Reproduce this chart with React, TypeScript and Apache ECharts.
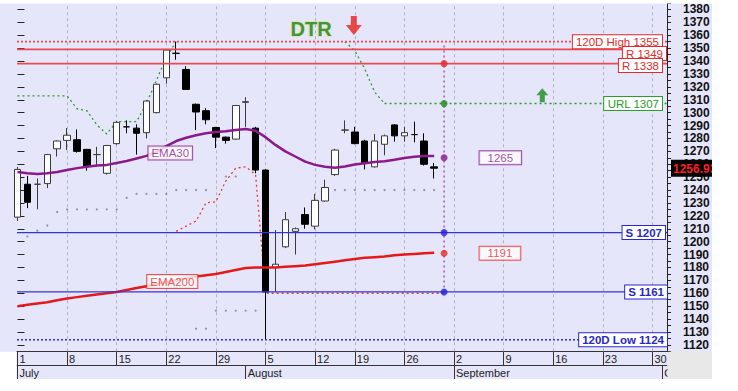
import React, { useEffect, useRef } from 'react';
import * as echarts from 'echarts';

// ---------- calendar (trading days, one slot per session) ----------
const julyDays = [1, 2, 3, 4, 5, 8, 9, 10, 11, 12, 15, 16, 17, 18, 19, 22, 23, 24, 25, 26, 29, 30, 31];
const augustDays = [1, 2, 5, 6, 7, 8, 9, 12, 13, 14, 16, 19, 20, 21, 22, 23, 26, 27, 28, 29, 30];
const septemberDays = [2, 3, 4, 5, 6, 9, 10, 11, 12, 13, 16, 17, 18, 19, 20, 23, 24, 25, 26, 27, 30];
const octoberDays = [1];
const dates: string[] = [
  ...julyDays.map((d) => `7/${d}`),
  ...augustDays.map((d) => `8/${d}`),
  ...septemberDays.map((d) => `9/${d}`),
  ...octoberDays.map((d) => `10/${d}`),
];
const weekTickDates = ['7/1', '7/8', '7/15', '7/22', '7/29', '8/5', '8/12', '8/19', '8/26', '9/2', '9/9', '9/16', '9/23', '9/30'];
const monthStartDates = ['7/1', '8/1', '9/2', '10/1'];
const monthNames = ['July', 'August', 'September', 'October'];

// ---------- price data (Jul 1 .. Aug 29) ----------
const opens = [1219, 1244.5, 1244.5, 1245, 1272, 1278.5, 1279, 1271.5, 1267.5, 1253, 1276, 1289, 1288, 1284.5, 1300, 1327, 1346, 1333.5, 1306.5, 1301.5, 1288.5, 1281, 1279.5, 1308, 1288, 1255.5, 1180, 1196, 1208, 1221, 1212, 1231.5, 1252, 1286.5, 1285, 1278, 1258, 1275.5, 1290.5, 1282, 1283, 1278, 1258];
const closes = [1256, 1230.5, 1244.5, 1267.5, 1278, 1282.5, 1270, 1258.5, 1267.5, 1274.5, 1292.5, 1289, 1284, 1309, 1322, 1348.5, 1346, 1318, 1300.5, 1294.5, 1281, 1278.5, 1305.5, 1308.5, 1255.5, 1161, 1182.5, 1217, 1210, 1213.5, 1232, 1242, 1271, 1286.5, 1276, 1261, 1278, 1282, 1282, 1284.5, 1283, 1260, 1256.93];
const lows = [1216, 1226, 1225, 1241.5, 1266, 1271, 1269, 1255, 1258, 1252, 1275, 1284, 1267.5, 1280, 1299.5, 1322.5, 1341, 1318, 1286.5, 1291, 1272.5, 1276, 1279, 1289, 1253, 1124, 1161, 1195, 1190, 1210, 1209.5, 1231, 1251, 1284, 1275.5, 1256, 1257.5, 1267, 1277.5, 1277.5, 1277, 1259, 1249];
const highs = [1258, 1251, 1249, 1268, 1278.5, 1288, 1287, 1272, 1273.5, 1275, 1293.5, 1294, 1291, 1309.5, 1322.5, 1349, 1355, 1336, 1307, 1303.5, 1289, 1281.5, 1306, 1312, 1289, 1256, 1209, 1223, 1211, 1226.5, 1237, 1248, 1272, 1294, 1289, 1279, 1283.5, 1283, 1291, 1289, 1293, 1284, 1261];

const ema30 = [1254, 1253, 1252.5, 1253, 1254, 1255.5, 1257, 1258, 1259, 1259.5, 1261, 1262.5, 1264.5, 1266.5, 1269.5, 1274, 1278, 1280.5, 1282.5, 1284, 1285, 1285.5, 1286.5, 1287.3, 1286, 1281, 1275, 1270, 1266, 1262, 1259.5, 1258, 1257.2, 1258.2, 1259.8, 1260.8, 1261.7, 1262.3, 1263.5, 1264.8, 1265.8, 1266.4, 1266.4];
const ema200 = [1150, 1151, 1152, 1153, 1154.5, 1156, 1157, 1158, 1159, 1160, 1161, 1162.5, 1164, 1165.5, 1167, 1168.5, 1170, 1171.5, 1173, 1174, 1175, 1176.5, 1178, 1179.5, 1180, 1180, 1180, 1180.5, 1181, 1181.5, 1182.5, 1183.5, 1184.5, 1185.5, 1186.5, 1187.5, 1188, 1188.5, 1189.5, 1190, 1190.5, 1191, 1191.3];

// upper reversal level (green dotted), index 0..37
const urlLine: (number | null)[] = [1313, 1313, 1313, 1313, 1313, 1313, 1303, 1301.5, 1290.5, 1283.5, 1293, 1293, 1293, 1307, 1325, 1343, 1355, null, null, null, null, null, null, null, null, null, null, null, null, null, null, null, null, 1355, 1348, 1334, 1316, 1307];
const urlLevel = 1307;
// lower reversal level (red dotted), index 16..43
const lrlStart = 16;
const lrlLine = [1208, 1212, 1216, 1230, 1231, 1247, 1257, 1258, 1252, 1160, 1160, 1160, 1160, 1160, 1160, 1160, 1160, 1160, 1160, 1160, 1160, 1160, 1160, 1160, 1160, 1160, 1160, 1160];
// grey stop dots
const stopDotsHigh: (number | null)[] = [null, 1204, 1208.5, 1212.5, 1223, 1225, 1225, 1225, 1225, 1225, 1225, 1234, 1237, 1237, 1237, 1237, 1240, 1240, 1240, 1240, null, 1250.5, 1250.5, null, null, null, null, null, null, null, null, 1240, 1240, 1240, 1240, 1240, 1240, 1240, 1240, 1240, 1240, 1240, 1240];
const stopDotsLow: (number | null)[] = [null, null, null, null, null, null, null, null, null, null, null, null, null, null, null, null, null, null, 1132.5, 1132.5, 1146.5, 1146.5, 1146.5, 1146.5, 1146.5];

// horizontal levels
const levelValues = [1355, 1349, 1338, 1207, 1161, 1124];
const levelNames = ['120D High', 'R', 'R', 'S', 'S', '120D Low'];

// projection for next session
const projectionDate = '8/30';
const projectionValues = [1338, 1307, 1265, 1207, 1191, 1161];
const projectionTop = 1352;
const projectionBottom = 1158;

const yMajorTicks = [1120, 1130, 1140, 1150, 1160, 1170, 1180, 1190, 1200, 1210, 1220, 1230, 1240, 1250, 1260, 1270, 1280, 1290, 1300, 1310, 1320, 1330, 1340, 1350, 1360, 1370, 1380];

// ---------- styling ----------
const FONT = '"Liberation Sans", Arial, sans-serif';
const RED = '#e42a2a';
const RED_LINE = '#ec4850';
const BLUE = '#2828c8';
const BLUE_LINE = '#3434d6';
const GREEN = '#2a9a2a';
const PURPLE = '#8a1a8c';
const X_MIN = -0.05;
const X_MAX = 65.47;
const Y_MIN = 1115;
const Y_MAX = 1385;

const idx = (d: string) => dates.indexOf(d);
const weekIdx = weekTickDates.map(idx);
const monthIdx = monthStartDates.map(idx);

const levelPos = ['insideEnd', 'insideEndBottom', 'insideEndBottom', 'insideEnd', 'insideEnd', 'insideEnd'];
const levelDist = [[5, 0], [1, -2.4], [5, -4.6], [2, 0], [0, 0], [0, 0]];

const boxLabel = (color: string, bold: boolean, size = 11.5) => ({
  color,
  fontFamily: FONT,
  fontSize: size,
  fontWeight: bold ? 'bold' : 'normal',
  backgroundColor: '#ffffff',
  borderColor: color,
  borderWidth: 1,
  padding: [1, 3, 0, 3],
  lineHeight: 12,
});

function levelSeries(i: number) {
  const v = levelValues[i];
  const isRes = v > 1300;
  const dotted = levelNames[i].startsWith('120D');
  const color = isRes ? RED_LINE : BLUE_LINE;
  return {
    name: `level${i}`,
    type: 'line',
    data: [[X_MIN, v], [X_MAX, v]],
    showSymbol: false,
    silent: true,
    z: 5,
    color,
    lineStyle: {
      color,
      width: isRes ? 1.8 : dotted ? 1.6 : 1.3,
      type: dotted ? [2, 2] : 'solid',
    },
    markLine: {
      silent: true,
      z: 6,
      symbol: ['none', 'none'],
      lineStyle: { color: 'rgba(0,0,0,0)', width: 1 },
      label: {
        show: true,
        position: levelPos[i],
        distance: levelDist[i],
        formatter: `${levelNames[i]} ${v}`,
        ...boxLabel(isRes ? RED : BLUE, !isRes),
      },
      data: [{ yAxis: v }],
    },
  };
}

function buildOption(): any {
  const candleData = opens.map((o, i) => [i, o, closes[i], lows[i], highs[i]]);
  const projX = idx(projectionDate);
  const projColors = [RED, '#1f8a1f', PURPLE, '#2020e0', RED, '#2020e0'];

  return {
    animation: false,
    backgroundColor: '#e6e6fa',
    textStyle: { fontFamily: FONT },
    grid: { left: 17, right: 45, top: 3, bottom: 27.7, containLabel: false, outerBoundsMode: 'none' },
    xAxis: [
      {
        type: 'value',
        position: 'bottom',
        min: X_MIN,
        max: X_MAX,
        axisLine: { show: true, onZero: false, lineStyle: { color: '#333', width: 1 } },
        axisTick: { show: true, customValues: weekIdx, length: 14, lineStyle: { color: '#333', width: 1 } },
        axisLabel: {
          customValues: weekIdx,
          formatter: (v: number) => {
            const d = dates[Math.round(v)];
            return d ? d.split('/')[1] : '';
          },
          align: 'left',
          padding: [0, 0, 0, 2],
          margin: 2,
          fontSize: 11,
          color: '#222',
          fontFamily: FONT,
        },
        splitLine: { show: false },
      },
      {
        type: 'value',
        position: 'bottom',
        offset: 14,
        min: X_MIN,
        max: X_MAX,
        axisLine: { show: true, onZero: false, lineStyle: { color: '#333', width: 1 } },
        axisTick: { show: true, customValues: monthIdx, length: 14, lineStyle: { color: '#333', width: 1 } },
        axisLabel: {
          customValues: monthIdx,
          formatter: (v: number) => {
            const k = monthIdx.indexOf(Math.round(v));
            return k >= 0 ? monthNames[k] : '';
          },
          align: 'left',
          padding: [0, 0, 0, 2],
          margin: 2,
          fontSize: 11,
          color: '#222',
          fontFamily: FONT,
        },
        splitLine: { show: false },
      },
    ],
    yAxis: [
      {
        type: 'value',
        position: 'right',
        min: Y_MIN,
        max: Y_MAX,
        interval: 5,
        scale: true,
        axisLine: { show: true, onZero: false, lineStyle: { color: '#222', width: 1 } },
        axisTick: { show: true, length: 4, lineStyle: { color: '#222' } },
        axisLabel: {
          formatter: (v: number) => (v % 10 === 0 && v > Y_MIN && v < Y_MAX ? String(v) : ''),
          margin: 16,
          fontWeight: 'bold',
          fontSize: 12,
          fontFamily: FONT,
          color: '#111',
          padding: [4, 0, 0, 0],
        },
        splitLine: { show: false },
      },
      {
        type: 'value',
        position: 'right',
        min: Y_MIN,
        max: Y_MAX,
        scale: true,
        axisLine: { show: false },
        axisTick: { show: true, customValues: yMajorTicks, length: 7, lineStyle: { color: '#222' } },
        axisLabel: { show: false },
        splitLine: { show: false },
      },
    ],
    series: [
      {
        name: 'price',
        type: 'candlestick',
        data: candleData,
        encode: { x: 0, y: [1, 2, 3, 4] },
        barWidth: 7,
        z: 3,
        itemStyle: {
          color: '#ffffff',
          color0: '#000000',
          borderColor: '#3a3a3a',
          borderColor0: '#000000',
          borderWidth: 1,
        },
      },
      {
        name: 'EMA30',
        type: 'line',
        data: ema30.map((v, i) => [i, v]),
        showSymbol: false,
        z: 4,
        lineStyle: { color: PURPLE, width: 2.5 },
        itemStyle: { color: PURPLE },
        markLine: {
          silent: true,
          z: 1,
          symbol: ['none', 'none'],
          label: { show: false },
          lineStyle: { color: '#b0b0c2', type: [3, 3], width: 1 },
          data: weekIdx.slice(1).map((x) => ({ xAxis: x })),
        },
      },
      {
        name: 'EMA200',
        type: 'line',
        data: ema200.map((v, i) => [i, v]),
        showSymbol: false,
        z: 4,
        lineStyle: { color: '#e41a1a', width: 2.5 },
        itemStyle: { color: '#e41a1a' },
      },
      ...levelValues.map((_, i) => levelSeries(i)),
      {
        name: 'URL',
        type: 'line',
        data: urlLine.map((v, i) => [i, v]),
        showSymbol: false,
        connectNulls: false,
        z: 2,
        lineStyle: { color: GREEN, width: 1.3, type: [2, 3] },
        markLine: {
          silent: true,
          symbol: ['none', 'none'],
          lineStyle: { color: GREEN, width: 1.3, type: [2, 3] },
          label: {
            show: true,
            position: 'insideEnd',
            distance: [5, 0],
            formatter: `URL ${urlLevel}`,
            ...boxLabel('#28a028', false),
          },
          data: [[{ coord: [urlLine.length - 1, urlLevel] }, { coord: [X_MAX, urlLevel] }]],
        },
      },
      {
        name: 'LRL',
        type: 'line',
        data: lrlLine.map((v, i) => [lrlStart + i, v]),
        showSymbol: false,
        z: 2,
        lineStyle: { color: '#e23a3a', width: 1.3, type: [2, 3] },
      },
      {
        name: 'stopHigh',
        type: 'scatter',
        data: stopDotsHigh.map((v, i) => [i, v]).filter((p) => p[1] != null),
        symbolSize: 2.2,
        z: 2,
        itemStyle: { color: '#7c7c8c' },
      },
      {
        name: 'stopLow',
        type: 'scatter',
        data: stopDotsLow.map((v, i) => [i, v]).filter((p) => p[1] != null),
        symbolSize: 2.2,
        z: 2,
        itemStyle: { color: '#7c7c8c' },
      },
      {
        name: 'projLine',
        type: 'line',
        data: [[projX, projectionTop], [projX, projectionBottom]],
        showSymbol: false,
        z: 6,
        lineStyle: { color: '#a040a8', width: 1.3, type: [2, 3] },
      },
      {
        name: 'projDots',
        type: 'scatter',
        z: 7,
        symbolSize: 7,
        data: projectionValues.map((v, i) => {
          const item: any = { value: [projX, v], itemStyle: { color: projColors[i] } };
          if (v === 1265 || v === 1191) {
            item.label = {
              show: true,
              position: 'right',
              distance: 32,
              formatter: String(v),
              ...boxLabel(v === 1265 ? PURPLE : RED, false),
              padding: [1, 8, 0, 8],
            };
          }
          return item;
        }),
      },
      {
        name: 'annotations',
        type: 'scatter',
        z: 8,
        silent: true,
        data: [
          {
            value: [29.6, 1364.5],
            symbolSize: 0,
            label: {
              show: true,
              position: 'inside',
              formatter: 'DTR',
              color: '#16801c',
              fontSize: 20,
              fontWeight: 'bold',
              fontFamily: FONT,
              textBorderColor: 'rgba(214,226,110,0.9)',
              textBorderWidth: 1.5,
            },
          },
          {
            value: [33.9, 1367.6],
            symbol: 'path://M5,0 L11,0 L11,9 L16,9 L8,19 L0,9 L5,9 Z',
            symbolSize: [16, 19],
            itemStyle: { color: '#e8201c' },
          },
          {
            value: [52.9, 1313.5],
            symbol: 'path://M6,0 L12,7 L8.5,7 L8.5,14 L3.5,14 L3.5,7 L0,7 Z',
            symbolSize: [12, 14],
            itemStyle: { color: '#1c8a1c' },
          },
          {
            value: [15.4, 1268.7],
            symbolSize: 0,
            label: { show: true, position: 'inside', formatter: 'EMA30', ...boxLabel(PURPLE, false, 11.5) },
          },
          {
            value: [15.6, 1169.1],
            symbolSize: 0,
            label: { show: true, position: 'inside', formatter: 'EMA200', ...boxLabel(RED, false, 11.5) },
          },
        ],
      },
    ],
  };
}

export default function App() {
  const ref = useRef<HTMLDivElement>(null);
  useEffect(() => {
    const el = ref.current;
    if (!el) return;
    const chart = echarts.init(el, null, { renderer: 'svg' });
    chart.setOption(buildOption());
    const lastPrice = closes[closes.length - 1];
    const yPrice = chart.convertToPixel({ yAxisIndex: 0 }, lastPrice) as number;
    const xRight = chart.convertToPixel({ xAxisIndex: 0 }, X_MAX) as number;
    const yBottom = chart.convertToPixel({ yAxisIndex: 0 }, Y_MIN) as number;
    const w = chart.getWidth();
    const h = chart.getHeight();
    chart.setOption({
      graphic: {
        elements: [
          { type: 'rect', id: 'topStrip', z: 100, shape: { x: 0, y: 0, width: w, height: 3.5 }, style: { fill: '#ffffff' } },
          { type: 'rect', id: 'leftBottom', z: 100, shape: { x: 0, y: yBottom + 0.5, width: 16.5, height: h - yBottom }, style: { fill: '#ffffff' } },
          { type: 'rect', id: 'rightBottom', z: 100, shape: { x: xRight + 0.5, y: yBottom + 0.5, width: w - xRight, height: h - yBottom }, style: { fill: '#e8e8e8' } },
          { type: 'rect', id: 'priceBox', z: 100, shape: { x: xRight + 4, y: yPrice - 8.5, width: w - xRight, height: 17 }, style: { fill: '#000000' } },
          {
            type: 'text',
            id: 'priceText',
            z: 101,
            x: xRight + 6,
            y: yPrice + 0.5,
            style: {
              text: lastPrice.toFixed(2),
              fill: '#ff1e1e',
              font: `bold 12px ${FONT}`,
              verticalAlign: 'middle',
              align: 'left',
            },
          },
        ],
      },
    });
    return () => chart.dispose();
  }, []);
  return <div ref={ref} style={{ position: 'absolute', left: 0, top: 0, width: 712, height: 379 }} />;
}
